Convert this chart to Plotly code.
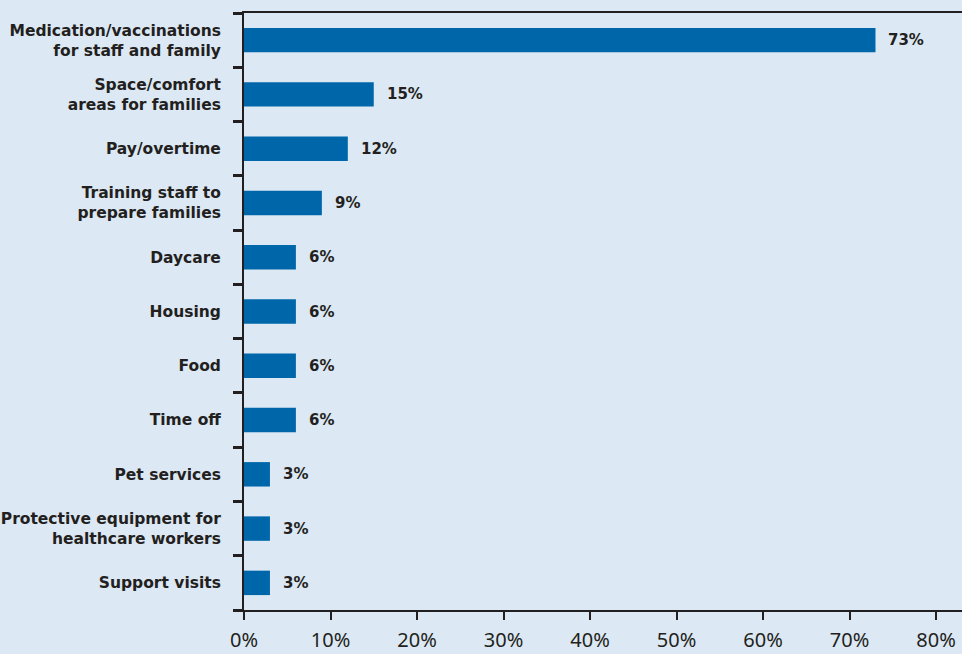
import plotly.graph_objects as go

# Survey responses, listed top to bottom
categories = [
    "Medication/vaccinations<br>for staff and family",
    "Space/comfort<br>areas for families",
    "Pay/overtime",
    "Training staff to<br>prepare families",
    "Daycare",
    "Housing",
    "Food",
    "Time off",
    "Pet services",
    "Protective equipment for<br>healthcare workers",
    "Support visits",
]
percent_values = [73, 15, 12, 9, 6, 6, 6, 6, 3, 3, 3]
tick_values = [0, 10, 20, 30, 40, 50, 60, 70, 80]
tick_labels = [f"{v}%" for v in tick_values]

BG = "#dce8f3"
BAR = "#0066aa"
INK = "#231f20"
LABEL_FONT = "DejaVu Sans"
TICK_FONT = "Noto Sans"

fig = go.Figure(
    go.Bar(
        x=percent_values,
        y=categories,
        orientation="h",
        marker=dict(color=BAR, line=dict(width=0)),
        width=0.45,
        hoverinfo="skip",
    )
)

# Value labels to the right of each bar
for cat, val in zip(categories, percent_values):
    fig.add_annotation(
        x=val, y=cat, text=f"<b>{val}%</b>", showarrow=False,
        xanchor="left", yanchor="middle", xshift=11,
        font=dict(family=LABEL_FONT, size=15, color=INK),
    )

fig.update_layout(
    width=962, height=654,
    paper_bgcolor=BG, plot_bgcolor=BG,
    margin=dict(l=244, r=0, t=13, b=44),
    showlegend=False,
    bargap=0.55,
)

fig.update_xaxes(
    range=[0, 83],
    tickvals=tick_values, ticktext=tick_labels,
    showgrid=False, zeroline=False,
    showline=True, linecolor=INK, linewidth=2, mirror=True,
    ticks="outside", ticklen=8, tickwidth=2, tickcolor=INK,
    ticklabelstandoff=3,
    tickfont=dict(family=TICK_FONT, size=20, color=INK),
)

fig.update_yaxes(
    categoryorder="array", categoryarray=categories[::-1],
    autorange=True,
    showgrid=False, zeroline=False,
    showline=True, linecolor=INK, linewidth=2,
    ticks="outside", tickson="boundaries", ticklen=9, tickwidth=3, tickcolor=INK,
    ticklabelstandoff=18,
    tickfont=dict(family=LABEL_FONT, size=15.5, color=INK, weight="bold"),
)

fig.write_html("out.html")
